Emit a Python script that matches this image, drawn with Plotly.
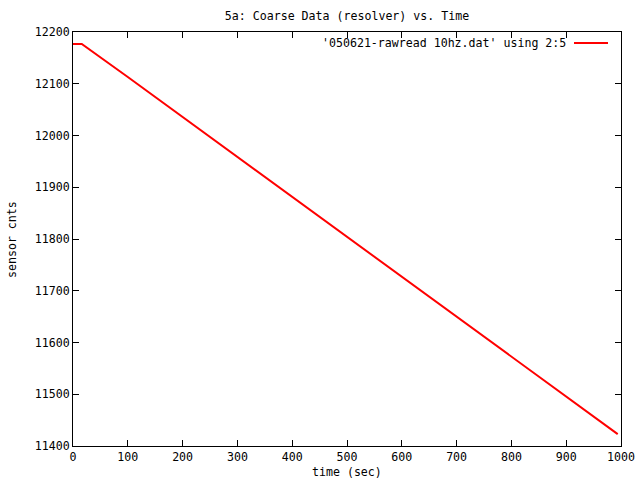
import plotly.graph_objects as go

time_sec = [0, 16, 100, 200, 300, 400, 500, 600, 700, 800, 900, 994]
sensor_cnts = [12177, 12177, 12113, 12036, 11958, 11881, 11804, 11727, 11650, 11573, 11496, 11423]

x_ticks = list(range(0, 1001, 100))
y_ticks = list(range(11400, 12201, 100))

FONT = "DejaVu Sans Mono"
FS = 11.6
L, R, T, B = 73, 621, 32, 446

fig = go.Figure()
fig.add_trace(go.Scatter(x=time_sec, y=sensor_cnts, mode="lines",
                         line=dict(color="#ff0000", width=2), showlegend=False))

axis_common = dict(showgrid=False, zeroline=False, showline=True, linecolor="black",
                   linewidth=1, mirror="ticks", ticks="inside", ticklen=6, automargin=False,
                   tickcolor="black", tickfont=dict(family=FONT, size=FS, color="black"))

fig.update_xaxes(range=[0, 1000], tickvals=x_ticks, ticktext=[str(v) for v in x_ticks],
                 **axis_common)
fig.update_yaxes(range=[11400, 12200], tickvals=y_ticks, ticktext=[str(v) for v in y_ticks],
                 **axis_common)

W, H = R - L, B - T

fig.add_annotation(x=(568 - L) / W, y=(B - 43) / H, xref="paper", yref="paper",
                   text="'050621-rawread 10hz.dat' using 2:5",
                   showarrow=False, xanchor="right", yanchor="middle",
                   font=dict(family=FONT, size=FS, color="black"))
fig.add_annotation(x=(347 - L) / W, y=(B - 472) / H, xref="paper", yref="paper",
                   text="time (sec)", showarrow=False, xanchor="center", yanchor="middle",
                   font=dict(family=FONT, size=FS, color="black"))
fig.add_annotation(x=(12 - L) / W, y=(B - 240) / H, xref="paper", yref="paper",
                   text="sensor cnts", showarrow=False, textangle=-90,
                   xanchor="center", yanchor="middle",
                   font=dict(family=FONT, size=FS, color="black"))
fig.add_shape(type="line", xref="paper", yref="paper",
              x0=(574 - L) / W, x1=(608 - L) / W,
              y0=(B - 43) / H, y1=(B - 43) / H,
              line=dict(color="#ff0000", width=2))

fig.update_layout(
    width=640, height=480,
    margin=dict(l=L, r=640 - R, t=T, b=480 - B, autoexpand=False),
    paper_bgcolor="white", plot_bgcolor="white",
    title=dict(text="5a: Coarse Data (resolver) vs. Time", x=(L + R) / 2 / 640, xanchor="center",
               y=1 - 16 / 480, yanchor="middle", font=dict(family=FONT, size=FS, color="black")),
)

fig.write_html("out.html")
